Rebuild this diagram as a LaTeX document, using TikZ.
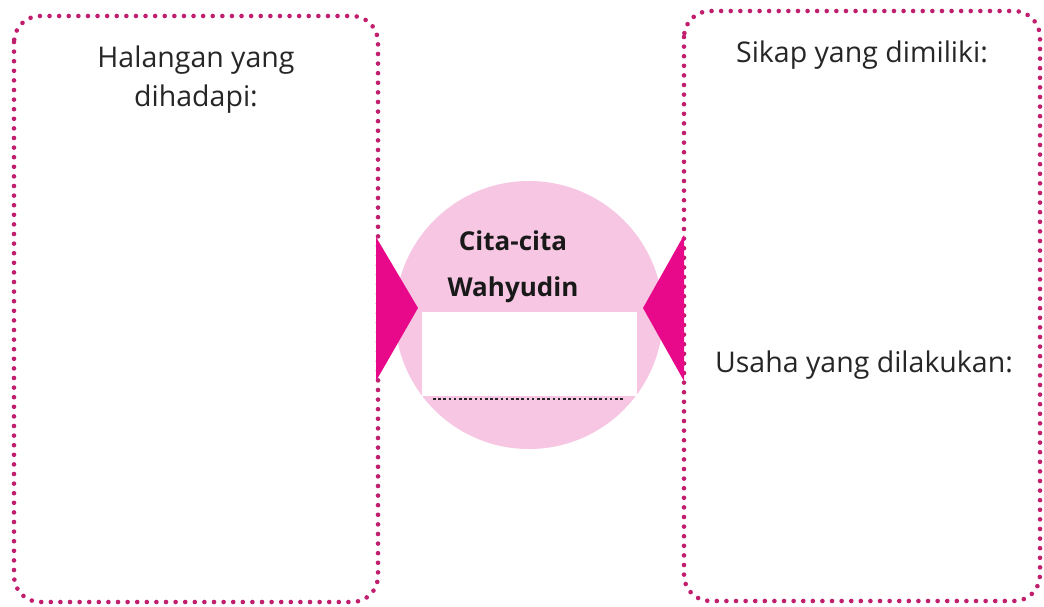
\documentclass[tikz,border=0pt]{standalone}
\usepackage{fontspec}
\setmainfont{Open Sans}
\begin{document}
\begin{tikzpicture}[x=1pt,y=-1pt,
  dotbox/.style={draw=dotcol, line width=4.6pt, line cap=round, dash pattern=on 0pt off 9.6pt, rounded corners=26pt},
  label/.style={font=\fontsize{28.5}{39}\selectfont, text=black!85, align=center, inner sep=0pt},
  title/.style={font=\fontsize{26}{30}\selectfont\bfseries, text=black!90, inner sep=0pt},
  tri/.style={fill=tricol, draw=none}]
\definecolor{dotcol}{HTML}{C21E6E}
\definecolor{tricol}{HTML}{E8088A}
\definecolor{circcol}{HTML}{F6C6E3}
\useasboundingbox (0,0) rectangle (1044,606);
\fill[white] (0,0) rectangle (1044,606);
% boxes
\draw[dotbox] (14,16) rectangle (378,602);
\draw[dotbox] (684,11) rectangle (1040,601);
% circle
\node[circle, fill=circcol, minimum size=268pt, inner sep=0pt] (goal) at (529,315) {};
% triangles
\coordinate (lt1) at (376,237);
\coordinate (lt2) at (376,381);
\coordinate (lta) at (418,308);
\coordinate (rt1) at (684,235);
\coordinate (rt2) at (684,381);
\coordinate (rta) at (643,308);
\fill[tri] (lt1) -- (lta) -- (lt2) -- cycle;
\fill[tri] (rt1) -- (rta) -- (rt2) -- cycle;
% circle texts
\node[title] (c1) at (513,241) {Cita-cita};
\node[title] (c2) at (513,290) {Wahyudin};
\coordinate (dl1) at (433,399);
\coordinate (dl2) at (625,399);
\draw[line width=2.6pt, dash pattern=on 2.6pt off 2.6pt, black!85] (dl1) -- (dl2);
\node[fill=white, minimum width=215pt, minimum height=84pt, inner sep=0pt, anchor=north west] (mask) at (422,312) {};
% labels
\node[label] (h1) at (196,80) {Halangan yang\\dihadapi:};
\node[label] (s1) at (862,55) {Sikap yang dimiliki:};
\node[label] (u1) at (864,365) {Usaha yang dilakukan:};
\end{tikzpicture}
\end{document}
